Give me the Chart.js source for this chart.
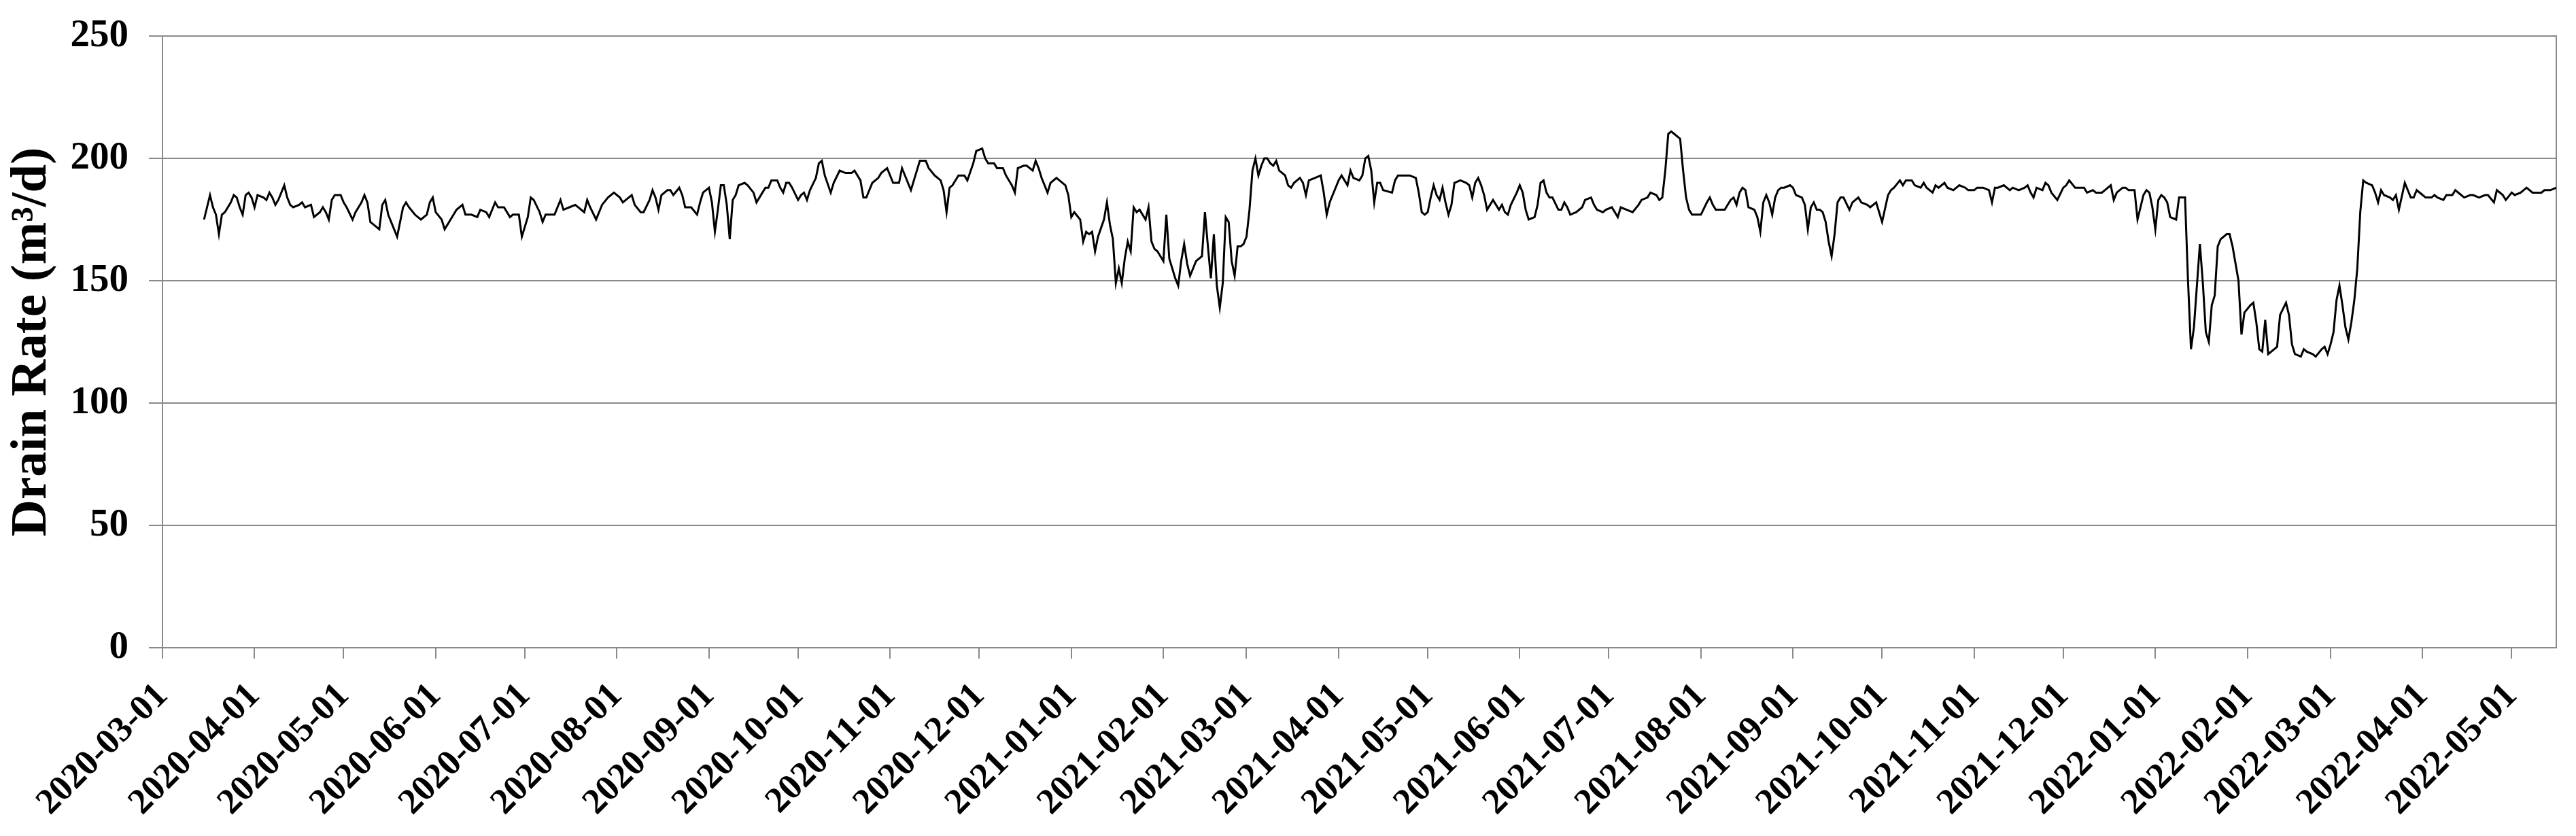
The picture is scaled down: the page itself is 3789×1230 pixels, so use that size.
<!DOCTYPE html>
<html>
<head>
<meta charset="utf-8">
<title>Drain Rate</title>
<script src="https://cdn.jsdelivr.net/npm/chart.js@4.4.0/dist/chart.umd.min.js"></script>
<style>
    body { margin: 0; background: #ffffff; }
    #wrap { width: 3789px; height: 1230px; }
</style>
</head>
<body>
<div id="wrap"><canvas id="drain" width="3789" height="1230"></canvas></div>
<script>
// day numbers are counted from this date
const startDate = "2020-03-01";

// days after startDate where a reading was taken off the plot
const dayNo = [
    14,16,17,18,19,20,21,23,24,25, 26,27,28,29,30,31,32,34,35,36, 37,38,39,41,42,43,44,46,47,48,
    50,51,53,54,55,56,57,58,60,61, 62,64,65,67,68,69,70,71,73,74, 75,76,77,79,80,81,82,83,85,87,
    89,90,91,92,94,95,96,98,99,101, 102,104,106,107,109,110,112,113,115,117, 118,120,121,123,124,125,127,128,129,132,
    134,135,137,
    139,142,143,144,146,147,148,150,152,154, 155,156,158,159,161,162,164,165,166,167, 168,170,171,172,174,175,176,178,180,181,
    182,184,185,186,187,188,189,190,191,192, 193,194,196,197,199,200,201,203,204,205, 207,208,209,210,211,212,214,215,216,217,
    218,220,221,222,223,225,226,228,230,232, 233,235,236,237,239,241,242,244,246,248, 249,250,252,253,255,257,258,260,262,263,
    264,265,266,268,270,271,273,274,
    276,277,278,280,281,283,284,286,287,288, 290,291,293,294,295,296,298,299,301,302, 304,305,306,307,309,310,311,312,313,314,
    315,317,318,319,320,321,322,323,324,325, 326,327,328,329,331,332,333,334,335,337, 338,339,340,341,342,343,344,345,346,347,
    348,350,351,352,353,354,355,356,357,358, 359,360,361,362,363,364,365,366,367,368, 369,370,371,372,373,374,375,376,378,379,
    380,381,383,384,385,386,388,390,391,392, 393,395,396,397,399,400,401,403,404,405, 406,407,408,409,410,411,
    414,415,416,418,420,422,423,424,425,426, 427,428,429,430,431,432,433,434,435,437, 439,440,441,442,443,444,445,446,448,449,
    450,451,452,453,454,456,457,458,459,460, 462,463,464,465,466,467,468,470,471,472, 473,474,476,478,479,481,482,483,485,486,
    488,490,491,493,495,497,498,500,501,503, 504,505,506,507,508,509,511,512,513,514, 515,517,518,520,521,522,523,525,526,528,
    529,530,531,532,533,534,536,537,538,539, 540,541,542,543,544,545,546,548,
    549,550,552,553,554,555,556,557,558,559, 560,561,562,563,564,565,566,568,569,571, 572,574,575,577,578,579,581,582,583,585,
    586,587,589,590,592,593,594,596,597,598, 600,601,603,604,605,607,608,610,611,613, 615,616,617,618,620,622,623,625,627,628,
    629,630,631,633,634,635,636,638,640,641, 642,644,646,647,648,650,651,653,654,656, 657,658,660,661,662,664,665,666,667,668,
    669,670,671,672,673,674,675,676,678,679, 680,681,682,683,684,685,686,
    687,688,689,690,691,692,693,695,696,697, 698,699,700,701,703,704,705,706,707,708, 709,711,712,713,715,716,717,718,720,721,
    722,724,725,727,728,729,730,731,732,733, 734,735,736,737,738,739,740,741,742,744, 745,746,747,748,750,751,752,753,755,756,
    757,758,759,761,762,764,765,766,768,769, 771,772,774,775,777,778,780,782,783,785, 786,788,789,791,792,794,796,798,799,801,
    802,804,806
];

// drain rate in m3/d, same order as dayNo
const drainRate = [
    175,185,180,177,169,177,178,182,185,184, 180,177,185,186,184,180,185,184,183,186, 184,181,183,189,184,181,180,181,182,180,
    181,176,178,180,178,175,183,185,185,182, 180,175,178,182,185,182,174,173,171,181, 183,177,174,168,174,180,182,180,177,175,
    177,182,184,178,175,171,173,177,179,181, 177,177,176,179,178,176,182,180,180,176, 177,177,168,176,184,183,178,174,177,177,
    183,179,180,
    181,178,183,180,175,178,181,184,186,184, 182,183,185,181,178,178,183,187,184,179, 185,187,187,185,188,185,180,180,177,182,
    186,188,182,170,179,189,189,181,167,183, 185,189,190,189,186,182,184,188,188,191, 191,188,186,190,190,188,183,185,186,183,
    187,192,198,199,193,186,190,195,194,194, 195,191,184,184,190,192,194,196,190,190, 196,193,187,191,199,199,196,193,191,187,
    178,188,189,193,193,191,198,203,
    204,200,198,198,196,196,193,189,186,196, 197,197,195,199,196,192,186,190,192,191, 189,185,176,178,175,166,170,169,170,162,
    168,175,182,173,167,149,155,149,159,166, 162,180,178,179,175,180,166,163,162,158, 177,159,155,151,148,158,165,157,152,155,
    158,160,178,164,151,169,148,139,149,176, 174,158,152,164,164,165,168,179,195,200, 193,197,200,200,198,197,199,195,193,189,
    188,190,192,190,185,191,192,193,186,177, 182,188,191,193,189,195,192,191,193,200, 201,195,182,190,190,187,
    186,191,193,193,193,192,186,178,177,178, 184,189,185,183,188,182,177,181,190,191, 190,189,184,190,192,189,185,179,183,181,
    179,181,178,177,181,186,189,186,179,175, 176,181,190,191,186,184,184,179,179,182, 180,177,178,180,183,184,181,179,178,179,
    180,176,180,179,178,181,183,184,186,185, 183,184,195,210,211,210,208,195,184,179, 177,177,177,182,184,181,179,179,179,183,
    184,181,186,188,187,180,179,176,170,182, 185,182,177,184,187,188,188,189,
    188,185,184,181,171,180,182,179,179,178, 174,166,160,169,182,184,184,179,182,184, 182,181,180,182,178,174,185,187,188,191,
    189,191,191,189,188,190,188,186,189,188, 190,188,187,188,189,188,187,187,188,188, 187,182,188,188,189,187,188,187,188,189,
    186,184,188,187,190,189,186,183,188,189, 191,188,188,188,186,187,186,186,187,189, 183,186,188,188,187,187,175,180,185,187,
    186,180,171,183,185,184,182,176,175,184, 184,184,150,122,131,148,165,
    149,129,125,140,144,164,167,169,169,164, 157,150,128,137,140,141,133,122,121,134, 120,122,123,136,141,136,124,120,119,122,
    121,120,119,122,123,120,124,129,142,148, 140,131,126,133,142,155,178,191,190,189, 186,182,187,185,184,183,185,179,190,187,
    184,184,187,185,184,184,185,184,183,185, 185,187,185,184,185,185,184,185,185,182, 187,185,183,186,185,186,188,186,186,186,
    187,187,188
];

// month labels under the x axis
const monthTicks = [
    "2020-03-01","2020-04-01","2020-05-01","2020-06-01","2020-07-01","2020-08-01","2020-09-01",
    "2020-10-01","2020-11-01","2020-12-01","2021-01-01","2021-02-01","2021-03-01","2021-04-01",
    "2021-05-01","2021-06-01","2021-07-01","2021-08-01","2021-09-01","2021-10-01","2021-11-01",
    "2021-12-01","2022-01-01","2022-02-01","2022-03-01","2022-04-01","2022-05-01"
];
const lastDay = 806;   // right edge of the plot, mid May 2022

const yTicks = [0, 50, 100, 150, 200, 250];

if (dayNo.length != drainRate.length) {
    console.error("dayNo and drainRate differ: " + dayNo.length + " / " + drainRate.length);
}

function daysFromStart(dateText) {
    return Math.round((Date.parse(dateText) - Date.parse(startDate)) / 86400000);
}

// map tick day number -> label text
let tickLabel = new Map();
for (let t of monthTicks) {
    tickLabel.set(daysFromStart(t), t);
}

let points = [];
for (let i = 0; i < dayNo.length; i++) {
    points.push({x: dayNo[i], y: drainRate[i]});
}

const serif = "'Liberation Serif', 'Times New Roman', serif";
const gridGray = "#8a8a8a";

new Chart(document.getElementById("drain"), {
    type: "line",
    data: {
        datasets: [{
            data: points,
            borderColor: "#000000",
            borderWidth: 3,
            pointRadius: 0,
            tension: 0,
            fill: false
        }]
    },
    options: {
        responsive: false,
        animation: false,
        layout: {padding: {left: 0, right: 29, top: 53, bottom: 0}},
        plugins: {
            legend: {display: false},
            tooltip: {enabled: false}
        },
        scales: {
            x: {
                type: "linear",
                min: 0,
                max: lastDay,
                afterBuildTicks: function(axis) {
                    axis.ticks = Array.from(tickLabel.keys()).map(v => ({value: v}));
                },
                afterFit: function(axis) { axis.height = 277; },
                grid: {drawOnChartArea: false, drawTicks: true, tickLength: 16, color: gridGray, lineWidth: 2},
                border: {color: gridGray, width: 2},
                ticks: {
                    autoSkip: false,
                    minRotation: 45,
                    maxRotation: 45,
                    padding: 24,
                    color: "#000000",
                    font: {family: serif, size: 53, weight: "bold"},
                    callback: function(value) { return tickLabel.get(value); }
                }
            },
            y: {
                min: yTicks[0],
                max: yTicks[yTicks.length - 1],
                afterBuildTicks: function(axis) {
                    axis.ticks = yTicks.map(v => ({value: v}));
                },
                afterFit: function(axis) {
                    axis.width = 239;
                    // let layout.padding alone decide where the plot starts
                    axis.paddingTop = 0;
                    axis.paddingBottom = 0;
                },
                grid: {color: gridGray, lineWidth: 2, tickLength: 20},
                border: {color: gridGray, width: 2},
                ticks: {
                    padding: 30,
                    color: "#000000",
                    font: {family: serif, size: 57, weight: "bold"}
                },
                title: {
                    display: true,
                    text: "Drain Rate (m³/d)",
                    color: "#000000",
                    font: {family: serif, size: 75, weight: "bold"},
                    padding: {top: 3, bottom: 0}
                }
            },
            // empty axis on the right, only to close the frame
            yRight: {
                position: "right",
                min: yTicks[0],
                max: yTicks[yTicks.length - 1],
                afterFit: function(axis) { axis.width = 0; },
                grid: {display: false},
                border: {color: gridGray, width: 2},
                ticks: {display: false}
            }
        }
    }
});
</script>
</body>
</html>
